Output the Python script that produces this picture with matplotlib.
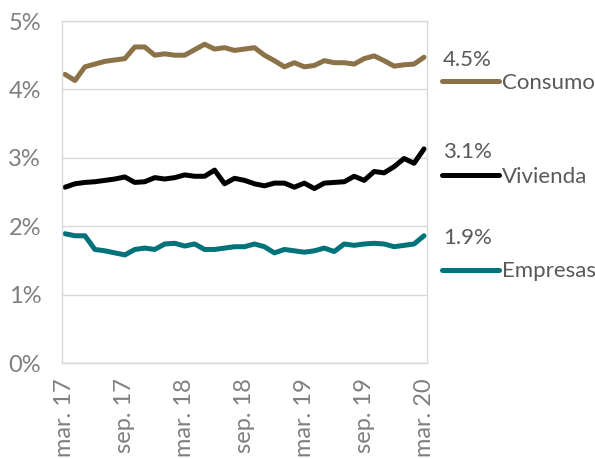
import matplotlib
matplotlib.use("Agg")
import matplotlib.pyplot as plt
import numpy as np

# monthly, mar-2017 .. mar-2020
consumo = [4.22, 4.13, 4.33, 4.37, 4.41, 4.43, 4.45, 4.62, 4.62, 4.50,
           4.52, 4.50, 4.50, 4.58, 4.66, 4.59, 4.61, 4.57, 4.59, 4.61,
           4.50, 4.42, 4.33, 4.39, 4.33, 4.35, 4.42, 4.39, 4.39, 4.37,
           4.45, 4.49, 4.42, 4.34, 4.36, 4.37, 4.47]
vivienda = [2.57, 2.62, 2.64, 2.65, 2.67, 2.69, 2.72, 2.64, 2.65, 2.71,
            2.69, 2.71, 2.75, 2.73, 2.73, 2.82, 2.62, 2.70, 2.67, 2.62,
            2.59, 2.63, 2.63, 2.57, 2.63, 2.55, 2.63, 2.64, 2.65, 2.73,
            2.67, 2.80, 2.78, 2.87, 2.99, 2.92, 3.13]
empresas = [1.89, 1.86, 1.86, 1.66, 1.64, 1.61, 1.58, 1.66, 1.68, 1.66,
            1.74, 1.75, 1.71, 1.74, 1.66, 1.66, 1.68, 1.70, 1.70, 1.74,
            1.70, 1.61, 1.66, 1.64, 1.62, 1.64, 1.68, 1.63, 1.74, 1.72,
            1.74, 1.75, 1.74, 1.70, 1.72, 1.74, 1.86]
tick_labels = ["mar. 17", "sep. 17", "mar. 18", "sep. 18", "mar. 19", "sep. 19", "mar. 20"]
names = ["Consumo", "Vivienda", "Empresas"]
colors = ["#8C7249", "#000000", "#00727A"]

plt.rcParams["font.family"] = ["Lato", "DejaVu Sans"]
gray = "#595959"
light = "#7F7F7F"

fig = plt.figure(figsize=(5.95, 4.59), dpi=100)
ax = fig.add_axes([62 / 595, 1 - 363 / 459, (427 - 62) / 595, (363 - 21) / 459])

x = np.arange(len(consumo))
handles = []
for ser, c, n in zip([consumo, vivienda, empresas], colors, names):
    ln, = ax.plot(x, ser, color=c, lw=3.6, solid_capstyle="round", solid_joinstyle="round", label=n)
    handles.append(ln)

ax.set_xlim(-0.3, 36.3)
ax.set_ylim(0, 5)
ax.set_yticks(range(6))
ax.set_yticklabels([f"{v}%" for v in range(6)])
ax.set_xticks(range(0, 37, 6))
ax.set_xticklabels(tick_labels, rotation=90)
ax.tick_params(length=0, labelsize=17, colors=light)
ax.tick_params(axis="x", pad=11)
ax.tick_params(axis="y", pad=15)
ax.grid(axis="y", color="#D9D9D9", lw=1)
for s in ax.spines.values():
    s.set_color("#D9D9D9")
    s.set_linewidth(1)

leg = fig.legend(handles=handles, loc="upper left", bbox_to_anchor=(442 / 595, 1 - 73 / 459),
                 frameon=False, fontsize=16, handlelength=2.57, handletextpad=0.13,
                 labelspacing=3.34, borderpad=0, borderaxespad=0)
for t in leg.get_texts():
    t.set_color(gray)

for ser, yp in zip([consumo, vivienda, empresas], [60, 152, 238]):
    fig.text(443 / 595, 1 - yp / 459, f"{ser[-1]:.1f}%", fontsize=16, color=gray, va="center")

fig.savefig("out.png", dpi=100)
